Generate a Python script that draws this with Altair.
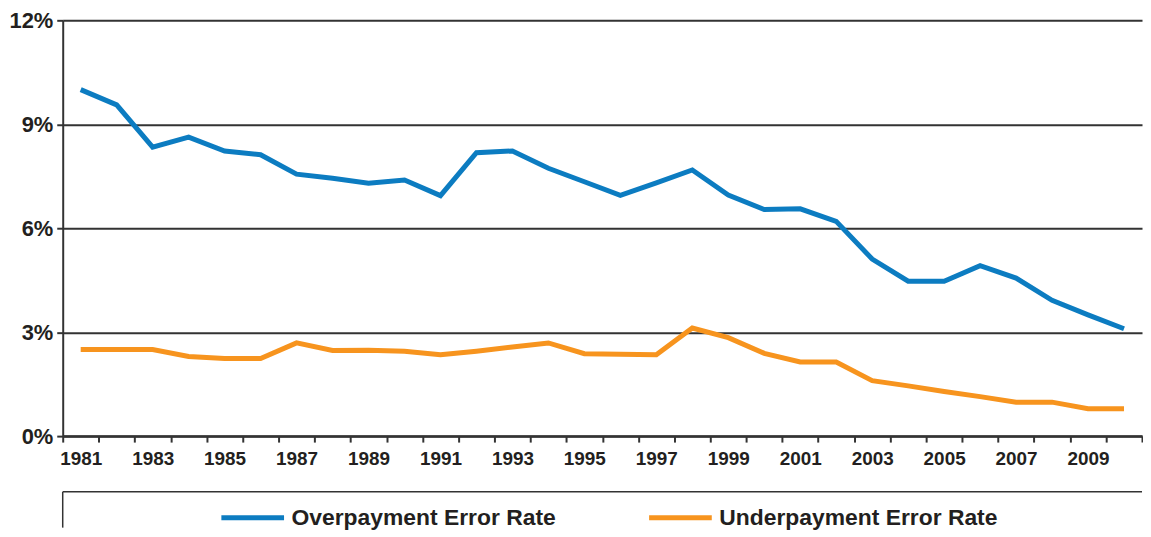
import altair as alt
import pandas as pd

years = list(range(1981, 2011))
overpayment = [10.0, 9.56, 8.34, 8.63, 8.23, 8.12, 7.56, 7.44, 7.30, 7.39,
               6.94, 8.18, 8.23, 7.73, 7.34, 6.95, 7.31, 7.68, 6.96, 6.54,
               6.56, 6.20, 5.11, 4.47, 4.47, 4.92, 4.56, 3.92, 3.50, 3.10]
underpayment = [2.50, 2.50, 2.50, 2.30, 2.24, 2.24, 2.69, 2.47, 2.48, 2.45,
                2.35, 2.45, 2.57, 2.69, 2.38, 2.36, 2.35, 3.12, 2.84, 2.39,
                2.14, 2.14, 1.60, 1.45, 1.29, 1.14, 0.98, 0.98, 0.79, 0.79]
series_names = ["Overpayment Error Rate", "Underpayment Error Rate"]
series_colors = ["#0C7CC1", "#F7941E"]
y_ticks = [0, 3, 6, 9, 12]

rows = []
for y, o, u in zip(years, overpayment, underpayment):
    rows.append({"year": y, "series": series_names[0], "value": o})
    rows.append({"year": y, "series": series_names[1], "value": u})
df = pd.DataFrame(rows)

W = 1085
H = 418
FONT = "Liberation Sans"
TXT = "#231f20"
LINE = "#333333"

lines = alt.Chart(df).mark_line(strokeWidth=5).encode(
    x=alt.X("year:O",
            scale=alt.Scale(type="band", paddingInner=0, paddingOuter=0),
            axis=alt.Axis(title=None, labelAngle=0, tickBand="extent",
                          labelExpr="datum.value % 2 == 1 ? datum.label : ''",
                          labelOverlap=False, labelFont=FONT, labelFontWeight="bold",
                          labelFontSize=19, labelColor=TXT, labelPadding=8,
                          tickSize=6, tickColor=LINE, tickWidth=2,
                          domainColor=LINE, domainWidth=2.5, grid=False)),
    y=alt.Y("value:Q",
            scale=alt.Scale(domain=[0, 12], nice=False),
            axis=alt.Axis(title=None, values=y_ticks, labelExpr="datum.value + '%'",
                          labelFont=FONT, labelFontWeight="bold", labelFontSize=22,
                          labelColor=TXT, labelPadding=4, tickSize=6, tickColor=LINE,
                          tickWidth=2, domainColor=LINE, domainWidth=2,
                          grid=True, gridColor=LINE, gridWidth=2)),
    color=alt.Color("series:N",
                    scale=alt.Scale(domain=series_names, range=series_colors),
                    legend=alt.Legend(orient="none", legendX=157, legendY=466,
                                      direction="horizontal", columns=2, title=None,
                                      symbolType="stroke", symbolSize=3969,
                                      symbolStrokeWidth=5, labelFont=FONT,
                                      labelFontWeight="bold", labelFontSize=23,
                                      labelColor=TXT, labelLimit=600,
                                      labelOffset=5, columnPadding=83, padding=0)),
)

box = pd.DataFrame({"k": [0]})
box_top = alt.Chart(box).mark_rule(color=LINE, strokeWidth=1.5).encode(
    x=alt.value(0), x2=alt.value(W), y=alt.value(H + 56))
box_left = alt.Chart(box).mark_rule(color=LINE, strokeWidth=1.5).encode(
    x=alt.value(0), y=alt.value(H + 56), y2=alt.value(H + 92))

chart = alt.layer(lines, box_top, box_left).properties(
    width=W, height=H, padding=0, background="white"
).configure_view(stroke=None)

chart.save("out.html", embed_options={"renderer": "svg", "actions": False})
